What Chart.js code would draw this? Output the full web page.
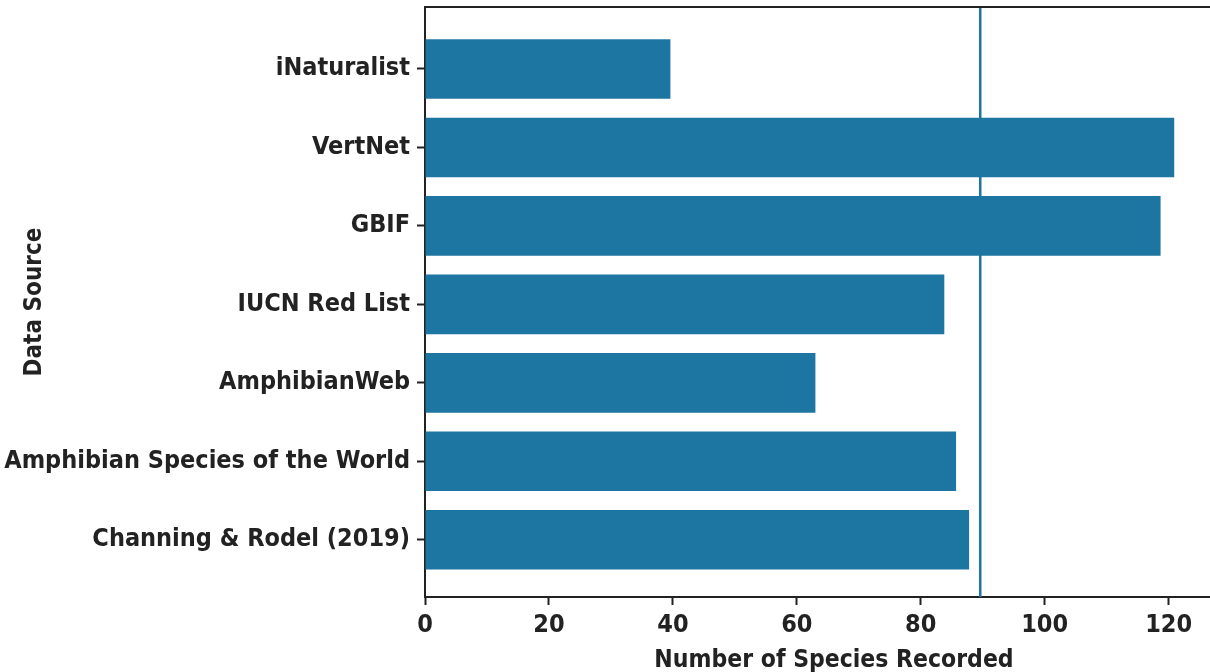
<!DOCTYPE html>
<html>
<head>
<meta charset="utf-8">
<script src="https://cdn.jsdelivr.net/npm/chart.js@4/dist/chart.umd.min.js"></script>
<style>
  html, body { margin: 0; padding: 0; background: #fff; overflow: hidden; }
  #wrap { width: 1250px; height: 672px; }
</style>
</head>
<body>
<div id="wrap"><canvas id="sources-chart"></canvas></div>
<script>
var sources = [
  "iNaturalist",
  "VertNet",
  "GBIF",
  "IUCN Red List",
  "AmphibianWeb",
  "Amphibian Species of the World",
  "Channing & Rodel (2019)",
];
var speciesCounts = [39.6, 120.9, 118.7, 83.8, 63.0, 85.7, 87.8];
var xTicks = [0, 20, 40, 60, 80, 100, 120];
var referenceLine = 89.6;

var ink = "#222222",
  barColor = "#1c76a1",
  font = "'DejaVu Sans Condensed', 'DejaVu Sans', sans-serif";

// reference line sits behind the bars, frame closes the top
var refLinePlugin = {
  id: "refLine",
  beforeDatasetsDraw(chart) {
    var c = chart.ctx,
      a = chart.chartArea,
      x = chart.scales.x.getPixelForValue(referenceLine);
    c.save();
    c.strokeStyle = barColor;
    c.lineWidth = 2.5;
    c.beginPath();
    c.moveTo(x, a.top);
    c.lineTo(x, a.bottom);
    c.stroke();
    c.restore();
  },
  afterDraw(chart) {
    var c = chart.ctx,
      a = chart.chartArea;
    c.save();
    c.strokeStyle = ink;
    c.lineWidth = 2;
    c.beginPath();
    c.moveTo(a.left, a.top);
    c.lineTo(a.right, a.top);
    c.lineTo(a.right, a.bottom);
    c.stroke();
    c.restore();
  },
};

function buildSourcesChart() {
  var el = document.getElementById("sources-chart");
  new Chart(el, {
    type: "bar",
    data: {
      datasets: [
        {
          label: "Species",
          data: speciesCounts.map((v, i) => ({ x: v, y: i })),
          backgroundColor: barColor,
          borderWidth: 0,
          barPercentage: 0.76,
          categoryPercentage: 1,
        },
      ],
    },
    plugins: [refLinePlugin],
    options: {
      indexAxis: "y",
      responsive: !0,
      maintainAspectRatio: !1,
      animation: !1,
      layout: { padding: { left: 0, top: 7, right: 7, bottom: 0 } },
      scales: {
        x: {
          type: "linear",
          min: 0,
          max: 132,
          afterFit(s) {
            s.height = 75;
          },
          afterBuildTicks(s) {
            s.ticks = xTicks.map((v) => ({ value: v }));
          },
          border: { color: ink, width: 2 },
          grid: {
            drawOnChartArea: !1,
            tickLength: 8,
            tickWidth: 2,
            tickColor: ink,
          },
          ticks: {
            color: ink,
            padding: 5,
            maxRotation: 0,
            font: { family: font, size: 25, weight: "bold" },
          },
          title: {
            display: !0,
            text: "Number of Species Recorded",
            color: ink,
            padding: { top: 0, bottom: -3 },
            font: { family: font, size: 24.5, weight: "bold" },
          },
        },
        y: {
          type: "linear",
          reverse: !0,
          offset: !1,
          min: -0.79,
          max: 6.73,
          afterFit(s) {
            s.width = 425;
            s.paddingTop = 0;
            s.paddingBottom = 0;
          },
          afterBuildTicks(s) {
            s.ticks = sources.map((n, i) => ({ value: i }));
          },
          border: { color: ink, width: 2 },
          grid: {
            offset: !1,
            drawOnChartArea: !1,
            tickLength: 8,
            tickWidth: 2,
            tickColor: ink,
          },
          ticks: {
            color: ink,
            padding: 7,
            autoSkip: !1,
            font: { family: font, size: 25, weight: "bold" },
            callback: (v) => sources[v],
          },
          title: {
            display: !0,
            text: "Data Source",
            color: ink,
            padding: { top: 20, bottom: 0 },
            font: { family: font, size: 24, weight: "bold" },
          },
        },
      },
      plugins: { legend: { display: !1 }, tooltip: { enabled: !1 } },
    },
  });
}
buildSourcesChart();
</script>
</body>
</html>
